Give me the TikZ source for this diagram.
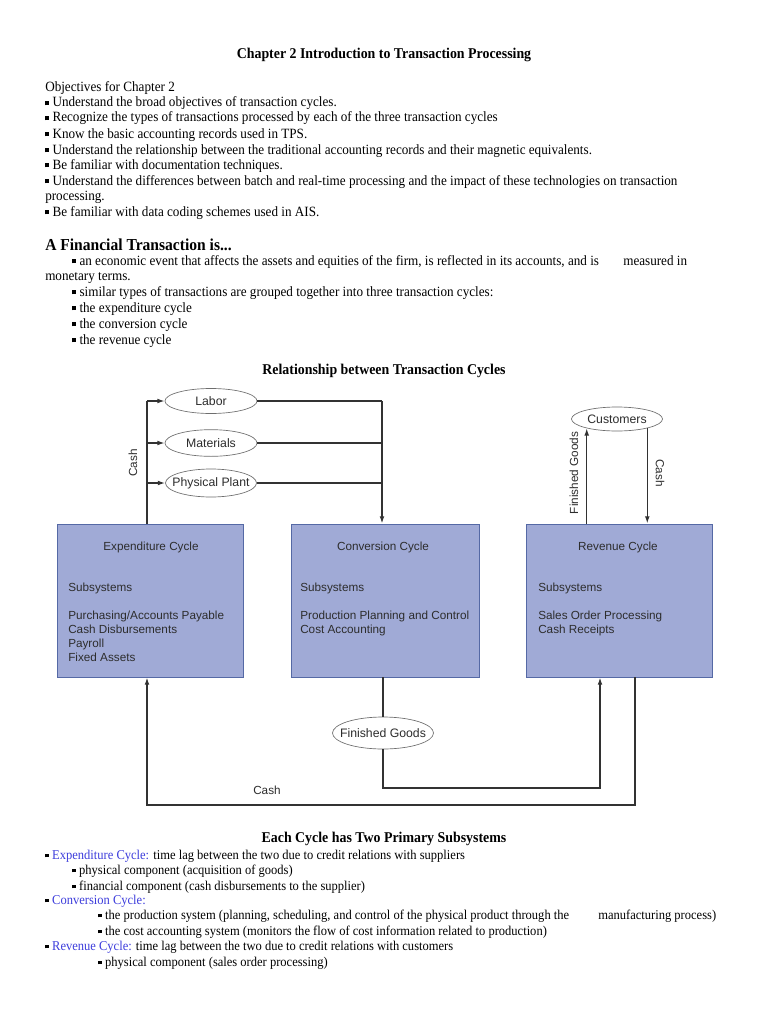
\documentclass[tikz,border=0pt]{standalone}
\usepackage{fontspec}
\setmainfont[FakeStretch=0.93]{Liberation Serif}
\newfontfamily\dsans{Liberation Sans}
\usetikzlibrary{shapes.geometric,arrows.meta}
\definecolor{boxfill}{RGB}{160,170,214}
\definecolor{boxline}{RGB}{85,105,165}
\definecolor{lnk}{RGB}{50,50,50}
\definecolor{dtext}{RGB}{45,45,45}
\definecolor{hblue}{RGB}{60,60,220}
\definecolor{ovalline}{RGB}{110,110,110}
\newcommand{\bul}{\raisebox{0.25ex}{\rule{0.28em}{0.28em}}\ }
\newcommand{\zw}[1]{\makebox[0pt]{#1}}
\begin{document}
\begin{tikzpicture}[x=0.75pt,y=-0.75pt,
  body/.style={anchor=base west,inner sep=0pt,font=\fontsize{10.6}{12}\selectfont},
  bodyb/.style={anchor=base west,inner sep=0pt,font=\fontsize{10.1}{12}\selectfont},
  headc/.style={anchor=base,inner sep=0pt,font=\fontsize{11.2}{13}\selectfont\bfseries},
  cyc/.style={draw=boxline,fill=boxfill,line width=0.6pt,minimum height=114.75pt,inner sep=0pt},
  ctitle/.style={anchor=base,inner sep=0pt,font=\dsans\fontsize{8.8}{10}\selectfont,text=dtext},
  cline/.style={anchor=base west,inner sep=0pt,font=\dsans\fontsize{8.8}{10}\selectfont,text=dtext},
  oval/.style={ellipse,draw=ovalline,line width=0.5pt,inner sep=0pt,font=\dsans\fontsize{9.2}{10}\selectfont,text=dtext},
  flow/.style={draw=lnk,line width=1pt},
  arr/.style={flow,-{Latex[length=5.5pt,width=3.6pt]}},
  vlab/.style={inner sep=0pt,font=\dsans\fontsize{8.8}{10}\selectfont,text=dtext}
]
\useasboundingbox[fill=white] (0,0) rectangle (768,1024);

% ---------- header text ----------
\node[headc] (title) at (384,59) {Chapter 2 Introduction to Transaction Processing};
\node[body] (obj) at (45,91) {Objectives for Chapter 2};
\node[body] (o1) at (45,107) {\bul Understand the broad objectives of transaction cycles.};
\node[body] (o2) at (45,122) {\bul Recognize the types of transactions processed by each of the three transaction cycles};
\node[body] (o3) at (45,138) {\bul Know the basic accounting records used in TPS.};
\node[body] (o4) at (45,154) {\bul Understand the relationship between the traditional accounting records and their magnetic equivalents.};
\node[body] (o5) at (45,169) {\bul Be familiar with documentation techniques.};
\node[body] (o6) at (45,185) {\bul Understand the differences between batch and real-time processing and the impact of these technologies on transaction};
\node[body] (o6b) at (45,200) {processing.};
\node[body] (o7) at (45,216) {\bul Be familiar with data coding schemes used in AIS.};

\node[body,font=\fontsize{12.55}{15}\selectfont\bfseries] (ft) at (45,250) {A Financial Transaction is...};
\node[body] (f1) at (72,265) {\bul an economic event that affects the assets and equities of the firm, is reflected in its accounts, and is};
\node[body] (f1b) at (623,265) {measured in};
\node[body] (f1c) at (45,280) {monetary terms.};
\node[body] (f2) at (72,296) {\bul similar types of transactions are grouped together into three transaction cycles:};
\node[body] (f3) at (72,312) {\bul the expenditure cycle};
\node[body] (f4) at (72,328) {\bul the conversion cycle};
\node[body] (f5) at (72,344) {\bul the revenue cycle};

\node[headc] (rel) at (384,374) {Relationship between Transaction Cycles};

% ---------- cycle boxes ----------
\node[cyc,minimum width=139.5pt] (exp) at (150,600.5) {};
\node[cyc,minimum width=141pt] (conv) at (385,600.5) {};
\node[cyc,minimum width=139.5pt] (rev) at (619,600.5) {};

\node[ctitle] (expt) at (151,550) {Expenditure Cycle};
\node[cline] (exps) at (68,591) {Subsystems};
\node[cline] (exp1) at (68,619) {Purchasing/Accounts Payable};
\node[cline] (exp2) at (68,633) {Cash Disbursements};
\node[cline] (exp3) at (68,647) {Payroll};
\node[cline] (exp4) at (68,661) {Fixed Assets};

\node[ctitle] (convt) at (383,550) {Conversion Cycle};
\node[cline] (convs) at (300,591) {Subsystems};
\node[cline] (conv1) at (300,619) {Production Planning and Control};
\node[cline] (conv2) at (300,633) {Cost Accounting};

\node[ctitle] (revt) at (618,550) {Revenue Cycle};
\node[cline] (revs) at (538,591) {Subsystems};
\node[cline] (rev1) at (538,619) {Sales Order Processing};
\node[cline] (rev2) at (538,633) {Cash Receipts};

% ---------- ovals ----------
\node[oval,minimum width=69pt,minimum height=18.75pt] (labor) at (211,401) {\zw{Labor}};
\node[oval,minimum width=69pt,minimum height=20pt] (materials) at (211,443) {\zw{Materials}};
\node[oval,minimum width=68.25pt,minimum height=21pt] (plant) at (211,483) {\zw{Physical Plant}};
\node[oval,minimum width=68.25pt,minimum height=18pt] (customers) at (617,419) {\zw{Customers}};
\node[oval,minimum width=75.75pt,minimum height=24pt] (fgoods) at (383,733) {\zw{Finished Goods}};

% ---------- connectors ----------
\coordinate (cashtop) at (147,401);
\draw[flow] (exp.north -| cashtop) -- (cashtop);
\draw[arr] (cashtop) -- (labor.west);
\draw[arr] (cashtop |- materials) -- (materials.west);
\draw[arr] (cashtop |- plant) -- (plant.west);

\coordinate (inx) at (382,401);
\draw[flow] (labor.east) -- (inx);
\draw[arr] (inx) -- (conv.north -| inx);
\draw[flow] (materials.east) -- (materials -| inx);
\draw[flow] (plant.east) -- (plant -| inx);

\draw[arr] (rev.north -| customers.197) -- (customers.197);
\draw[arr] (customers.-17) -- (rev.north -| customers.-17);

\coordinate (cashR) at (635,805);
\coordinate (cashL) at (147,805);
\draw[arr] (rev.south -| cashR) -- (cashR) -- (cashL) -- (exp.south -| cashL);

\draw[flow] (conv.south -| fgoods) -- (fgoods.north);
\coordinate (fgB) at (383,788);
\coordinate (fgR) at (600,788);
\draw[arr] (fgoods.south) -- (fgB) -- (fgR) -- (rev.south -| fgR);

% ---------- connector labels ----------
\node[vlab,rotate=90] (lcash) at (133,463) {Cash};
\node[vlab,rotate=90] (lfg) at (574,473) {Finished Goods};
\node[vlab,rotate=-90] (rcash) at (660,473) {Cash};
\node[vlab,anchor=base west] (bcash) at (253,794) {Cash};

% ---------- lower text ----------
\node[headc] (each) at (384,842) {Each Cycle has Two Primary Subsystems};
\node[bodyb] (e1) at (45,859) {\bul\textcolor{hblue}{Expenditure Cycle:} time lag between the two due to credit relations with suppliers};
\node[bodyb] (e2) at (72,874) {\bul physical component (acquisition of goods)};
\node[bodyb] (e3) at (72,890) {\bul financial component (cash disbursements to the supplier)};
\node[bodyb] (c1) at (45,904) {\bul\textcolor{hblue}{Conversion Cycle:}};
\node[bodyb] (c2) at (98,919) {\bul the production system (planning, scheduling, and control of the physical product through the};
\node[bodyb] (c2b) at (598,919) {manufacturing process)};
\node[bodyb] (c3) at (98,935) {\bul the cost accounting system (monitors the flow of cost information related to production)};
\node[bodyb] (r1) at (45,950) {\bul\textcolor{hblue}{Revenue Cycle:} time lag between the two due to credit relations with customers};
\node[bodyb] (r2) at (98,966) {\bul physical component (sales order processing)};
\end{tikzpicture}
\end{document}
